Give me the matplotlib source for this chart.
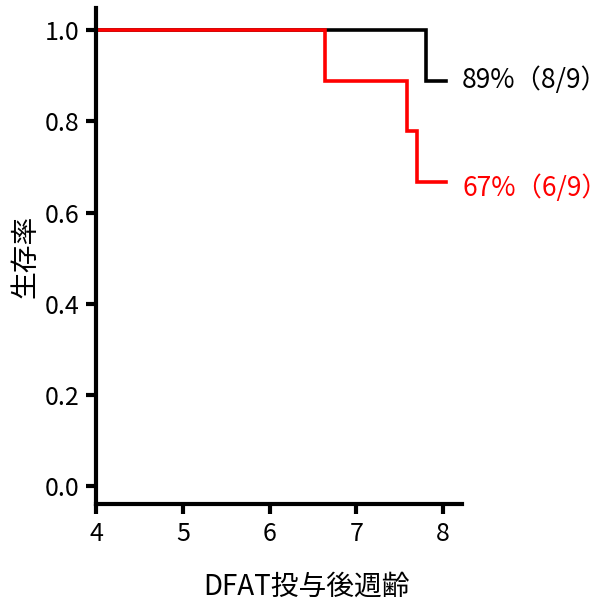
import matplotlib
matplotlib.use("Agg")
import matplotlib.pyplot as plt

plt.rcParams['font.family'] = ['Noto Sans CJK JP', 'DejaVu Sans']

# Data (Kaplan-Meier steps)
black_t = [4.0, 7.80, 8.03]
black_s = [1.0, 0.889, 0.889]
red_t = [4.0, 6.64, 7.59, 7.70, 8.03]
red_s = [1.0, 0.889, 0.778, 0.667, 0.667]
black_label = "89%（8/9）"
red_label = "67%（6/9）"
xticks = [4, 5, 6, 7, 8]
yticks = [0.0, 0.2, 0.4, 0.6, 0.8, 1.0]
xlabel = "DFAT投与後週齢"
ylabel = "生存率"

fig = plt.figure(figsize=(6.08, 6.01), dpi=100)
ax = fig.add_axes([0.158, 0.1614, 0.602, 0.825])

ax.step(black_t, black_s, where='post', color='black', lw=2.6, solid_joinstyle='miter')
ax.step(red_t, red_s, where='post', color='#ff0000', lw=2.6, solid_joinstyle='miter')

ax.text(8.22, black_s[-1], black_label, color='black', fontsize=19, va='center', ha='left')
ax.text(8.22, red_s[-1] - 0.013, red_label, color='#ff0000', fontsize=19, va='center', ha='left')

ax.set_xlim(4.0, 8.22)
ax.set_ylim(-0.039, 1.048)
ax.set_xticks(xticks)
ax.set_yticks(yticks)
ax.set_xticklabels([str(v) for v in xticks])
ax.set_yticklabels([f"{v:.1f}" for v in yticks])

for s in ['top', 'right']:
    ax.spines[s].set_visible(False)
for s in ['left', 'bottom']:
    ax.spines[s].set_linewidth(3)
ax.tick_params(axis='both', width=3, length=7, labelsize=18, pad=5)

ax.set_xlabel(xlabel, fontsize=20, labelpad=18)
ax.xaxis.label.set_x(0.576)
ax.set_ylabel(ylabel, fontsize=20, labelpad=3)

fig.savefig("out.png", dpi=100)
